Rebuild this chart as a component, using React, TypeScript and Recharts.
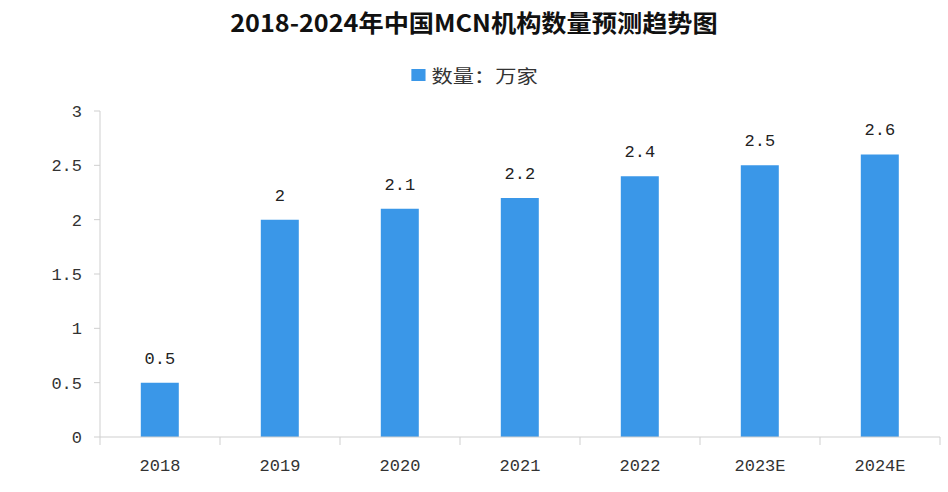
import { BarChart, Bar, XAxis, YAxis, LabelList } from 'recharts';

const years = ['2018', '2019', '2020', '2021', '2022', '2023E', '2024E'];
const counts = [0.5, 2, 2.1, 2.2, 2.4, 2.5, 2.6];
const yTicks = [0, 0.5, 1, 1.5, 2, 2.5, 3];

const data = years.map((year, i) => ({ year, count: counts[i] }));

const BAR_COLOR = '#3a97e8';
const AXIS_COLOR = '#cfcfcf';
const MONO = '"Liberation Mono", "DejaVu Sans Mono", monospace';

const XTick = (props: any) => {
  const { x, y, payload, index, width, visibleTicksCount } = props;
  const band = width / visibleTicksCount;
  const isLast = index === visibleTicksCount - 1;
  return (
    <g>
      <line x1={x - band / 2} x2={x - band / 2} y1={y - 8} y2={y + 0} stroke={AXIS_COLOR} />
      {isLast && <line x1={x + band / 2} x2={x + band / 2} y1={y - 8} y2={y + 0} stroke={AXIS_COLOR} />}
      <text x={x} y={y + 26} textAnchor="middle" fill="#333" fontSize={17} fontFamily={MONO}>
        {payload.value}
      </text>
    </g>
  );
};

export default function App() {
  return (
    <div style={{ position: 'absolute', left: 0, top: 0, width: 948, height: 492, background: '#fff' }}>
      <div
        style={{
          position: 'absolute',
          left: 0,
          top: 6,
          width: 948,
          textAlign: 'center',
          fontFamily: '"Noto Sans CJK SC", sans-serif',
          fontWeight: 700,
          fontSize: 24,
          color: '#111',
          transform: 'scaleX(1.05)',
          lineHeight: '32px',
        }}
      >
        2018-2024年中国MCN机构数量预测趋势图
      </div>
      <div
        style={{
          position: 'absolute',
          left: 0,
          top: 61,
          width: 948,
          display: 'flex',
          justifyContent: 'center',
          alignItems: 'center',
          fontFamily: '"Noto Sans CJK SC", sans-serif',
          fontSize: 18,
          color: '#333',
          lineHeight: '28px',
        }}
      >
        <div style={{ display: 'flex', alignItems: 'center', transform: 'scaleX(1.18)' }}>
          <span style={{ display: 'inline-block', width: 12, height: 12, background: BAR_COLOR, marginRight: 5 }} />
          <span>数量：万家</span>
        </div>
      </div>
      <BarChart
        width={948}
        height={492}
        data={data}
        margin={{ top: 111, right: 8, left: 0, bottom: 15 }}
        barCategoryGap="34%"
      >
        <XAxis
          dataKey="year"
          axisLine={{ stroke: AXIS_COLOR }}
          tickLine={false}
          height={40}
          tick={<XTick />}
          interval={0}
        />
        <YAxis
          width={100}
          domain={[0, 3]}
          ticks={yTicks}
          axisLine={{ stroke: AXIS_COLOR }}
          tickLine={{ stroke: AXIS_COLOR }}
          tickSize={6}
          tickMargin={12}
          tick={{ fill: '#333', fontSize: 17, fontFamily: MONO }}
        />
        <Bar dataKey="count" fill={BAR_COLOR} isAnimationActive={false}>
          <LabelList dataKey="count" position="top" offset={19} fill="#222" fontSize={17} fontFamily={MONO} />
        </Bar>
      </BarChart>
    </div>
  );
}
